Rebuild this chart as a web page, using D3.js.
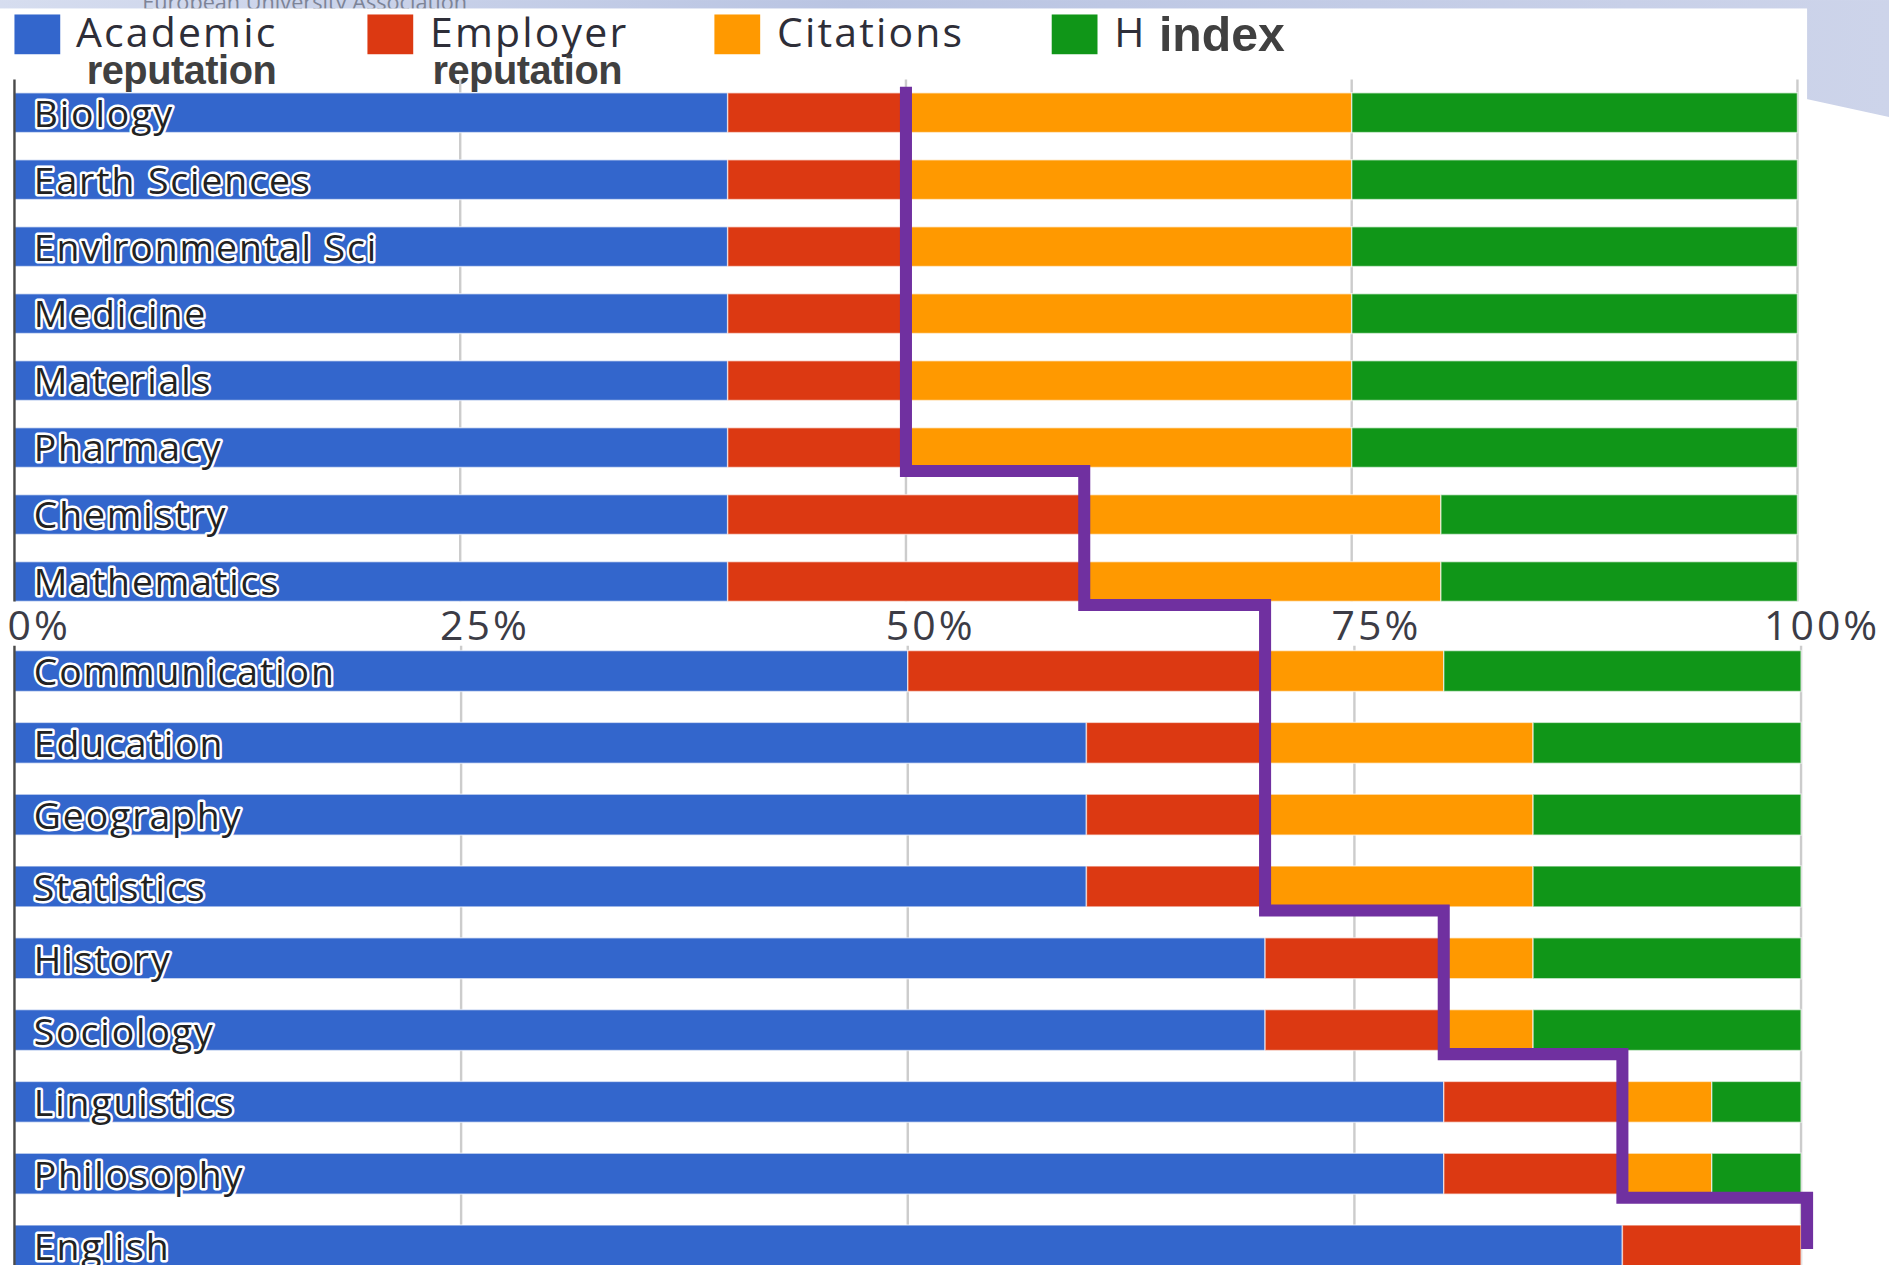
<!DOCTYPE html>
<html>
<head>
<meta charset="utf-8">
<script src="https://cdn.jsdelivr.net/npm/d3@7"></script>
<style>
    html, body { margin: 0; padding: 0; background: #ffffff; overflow: hidden; }
    svg { display: block; }
</style>
</head>
<body>
<div id="chart"></div>
<script>
// ---- data (percent weight of each indicator per subject) ----
var seriesNames = ["Academic reputation", "Employer reputation", "Citations", "H index"];
var seriesColors = ["#3366cc", "#dc3912", "#ff9900", "#109618"];

var topCategories = ["Biology", "Earth Sciences", "Environmental Sci", "Medicine", "Materials", "Pharmacy", "Chemistry", "Mathematics"];
var topAcademic = [40, 40, 40, 40, 40, 40, 40, 40];
var topEmployer = [10, 10, 10, 10, 10, 10, 20, 20];
var topCitations = [25, 25, 25, 25, 25, 25, 20, 20];
var topHindex = [25, 25, 25, 25, 25, 25, 20, 20];

var bottomCategories = ["Communication", "Education", "Geography", "Statistics", "History", "Sociology", "Linguistics", "Philosophy", "English"];
var bottomAcademic = [50, 60, 60, 60, 70, 70, 80, 80, 90];
var bottomEmployer = [20, 10, 10, 10, 10, 10, 10, 10, 10];
var bottomCitations = [10, 15, 15, 15, 5, 5, 5, 5, 0];
var bottomHindex = [20, 15, 15, 15, 15, 15, 5, 5, 0];

var tickValues = [0, 25, 50, 75, 100];

// drawing space (picture is 1568x1050 units, scaled to the window)
var W = 1568, H = 1050;

var svg = d3.select("#chart")
    .append("svg")
    .attr("width", 1889)
    .attr("height", 1265)
    .attr("viewBox", "0 0 " + W + " " + H);

// blurred slide background
var defs = svg.append("defs");
var bg = defs.append("linearGradient").attr("id", "bg").attr("x1", 0).attr("y1", 0).attr("x2", 1).attr("y2", 0);
bg.append("stop").attr("offset", "0%").attr("stop-color", "#d6ddef");
bg.append("stop").attr("offset", "45%").attr("stop-color", "#b9c4e2");
bg.append("stop").attr("offset", "100%").attr("stop-color", "#cdd4ea");
svg.append("rect").attr("width", W).attr("height", H).attr("fill", "url(#bg)");
svg.append("text")
    .attr("x", 118).attr("y", 8)
    .attr("font-family", "Open Sans")
    .attr("font-size", 18)
    .attr("fill", "#7d8497")
    .text("European University Association");
svg.append("polygon")
    .attr("points", "1490,80 1568,97 1568,1050 1490,1050")
    .attr("fill", "#ffffff");
svg.append("rect")
    .attr("x", 0).attr("y", 7)
    .attr("width", 1500).attr("height", H - 7)
    .attr("fill", "#ffffff");

// ---- legend ----
var legendX = [12, 305, 593, 873];
var legend = svg.append("g").attr("class", "legend");
legend.selectAll("rect")
    .data(seriesNames)
    .enter()
    .append("rect")
    .attr("x", function(d, i) { return legendX[i]; })
    .attr("y", 12)
    .attr("width", 38)
    .attr("height", 33)
    .attr("fill", function(d, i) { return seriesColors[i]; });

function legendWord(x, y, txt, bold, size, spacing) {
    legend.append("text")
        .attr("x", x).attr("y", y)
        .attr("font-family", bold ? "Liberation Sans" : "Open Sans")
        .attr("font-weight", bold ? "bold" : "normal")
        .attr("font-size", size)
        .attr("letter-spacing", spacing)
        .attr("fill", bold ? "#404040" : "#2e2e38")
        .text(txt);
}
legendWord(63, 39, "Academic", false, 34, 1.8);
legendWord(72, 70, "reputation", true, 33, -0.4);
legendWord(357, 39, "Employer", false, 34, 1.8);
legendWord(359, 70, "reputation", true, 33, -0.4);
legendWord(645, 39, "Citations", false, 34, 1.8);
legendWord(925, 39, "H", false, 34, 0);
legendWord(962, 42, "index", true, 40, 0);

// ---- panels ----
function buildRows(cats, a, e, c, h) {
    return cats.map(function(name, i) {
        return { name: name, values: [a[i], e[i], c[i], h[i]] };
    });
}

var panels = [
    {
        rows: buildRows(topCategories, topAcademic, topEmployer, topCitations, topHindex),
        x: d3.scaleLinear().domain([0, 100]).range([12, 1492]),
        y: d3.scaleBand().range([77, 499.2]).paddingInner(0.406).paddingOuter(0),
        gridTop: 66
    },
    {
        rows: buildRows(bottomCategories, bottomAcademic, bottomEmployer, bottomCitations, bottomHindex),
        x: d3.scaleLinear().domain([0, 100]).range([12, 1495]),
        y: d3.scaleBand().range([540, 1050.8]).paddingInner(0.43).paddingOuter(0),
        gridTop: 536
    }
];

panels.forEach(function(p) {
    p.y.domain(p.rows.map(function(d) { return d.name; }));
    var g = svg.append("g");
    var bottom = Math.min(H, p.y.range()[1]);

    // grid lines
    g.selectAll(".grid")
        .data(tickValues.slice(1))
        .enter()
        .append("line")
        .attr("class", "grid")
        .attr("x1", function(d) { return p.x(d); })
        .attr("x2", function(d) { return p.x(d); })
        .attr("y1", p.gridTop)
        .attr("y2", bottom)
        .attr("stroke", "#cccccc")
        .attr("stroke-width", 2);

    // stacked bars
    var row = g.selectAll(".row")
        .data(p.rows)
        .enter()
        .append("g")
        .attr("class", "row")
        .attr("transform", function(d) { return "translate(0," + p.y(d.name) + ")"; });

    row.selectAll("rect")
        .data(function(d) {
            var acc = 0;
            return d.values.map(function(v, i) {
                var seg = { start: acc, end: acc + v, i: i };
                acc += v;
                return seg;
            }).filter(function(s) { return s.end > s.start; });
        })
        .enter()
        .append("rect")
        .attr("x", function(d) { return p.x(d.start); })
        .attr("width", function(d) { return p.x(d.end) - p.x(d.start); })
        .attr("height", p.y.bandwidth())
        .attr("fill", function(d) { return seriesColors[d.i]; })
        .attr("stroke", "#ffffff")
        .attr("stroke-opacity", 0.6)
        .attr("stroke-width", 1.2);

    // left axis
    g.append("line")
        .attr("x1", 12).attr("x2", 12)
        .attr("y1", p.gridTop).attr("y2", bottom)
        .attr("stroke", "#4a4a4a")
        .attr("stroke-width", 2);

    // category labels inside the bars
    row.append("text")
        .attr("x", 28)
        .attr("y", p.y.bandwidth() - 5)
        .attr("font-family", "Open Sans")
        .attr("font-size", 31)
        .attr("letter-spacing", 1.6)
        .attr("fill", "#222222")
        .attr("stroke", "#ffffff")
        .attr("stroke-width", 4)
        .attr("stroke-linejoin", "round")
        .attr("paint-order", "stroke")
        .text(function(d) { return d.name; });
});

// ---- percent axis between the panels ----
var xAxis = d3.axisBottom(panels[0].x)
    .tickValues(tickValues)
    .tickSize(0)
    .tickFormat(function(d) { return d + "%"; });
var axisG = svg.append("g")
    .attr("transform", "translate(20,500)")
    .call(xAxis);
axisG.select(".domain").remove();
axisG.selectAll("text")
    .attr("dy", 0)
    .attr("y", 31)
    .attr("font-family", "Open Sans")
    .attr("font-size", 34)
    .attr("letter-spacing", 2.5)
    .attr("fill", "#3c3c46");

// ---- purple step line: cumulative academic + employer ----
var allRows = [];
panels.forEach(function(p) {
    p.rows.forEach(function(d) {
        allRows.push({ x: p.x, top: p.y(d.name), bottom: p.y(d.name) + p.y.bandwidth(), cum: d.values[0] + d.values[1] });
    });
});
var pts = [[allRows[0].x(allRows[0].cum), allRows[0].top - 5]];
for (var i = 1; i < allRows.length; i++) {
    if (allRows[i].cum !== allRows[i - 1].cum) {
        var ty = allRows[i - 1].bottom + 3;
        pts.push([allRows[i - 1].x(allRows[i - 1].cum), ty]);
        pts.push([allRows[i].x(allRows[i].cum) + (allRows[i].cum === 100 ? 5 : 0), ty]);
    }
}
var last = allRows[allRows.length - 1];
pts.push([last.x(last.cum) + 5, last.top + 20]);

svg.append("path")
    .attr("d", d3.line()(pts))
    .attr("fill", "none")
    .attr("stroke", "#7030a0")
    .attr("stroke-width", 10)
    .attr("stroke-linejoin", "miter");
</script>
</body>
</html>
